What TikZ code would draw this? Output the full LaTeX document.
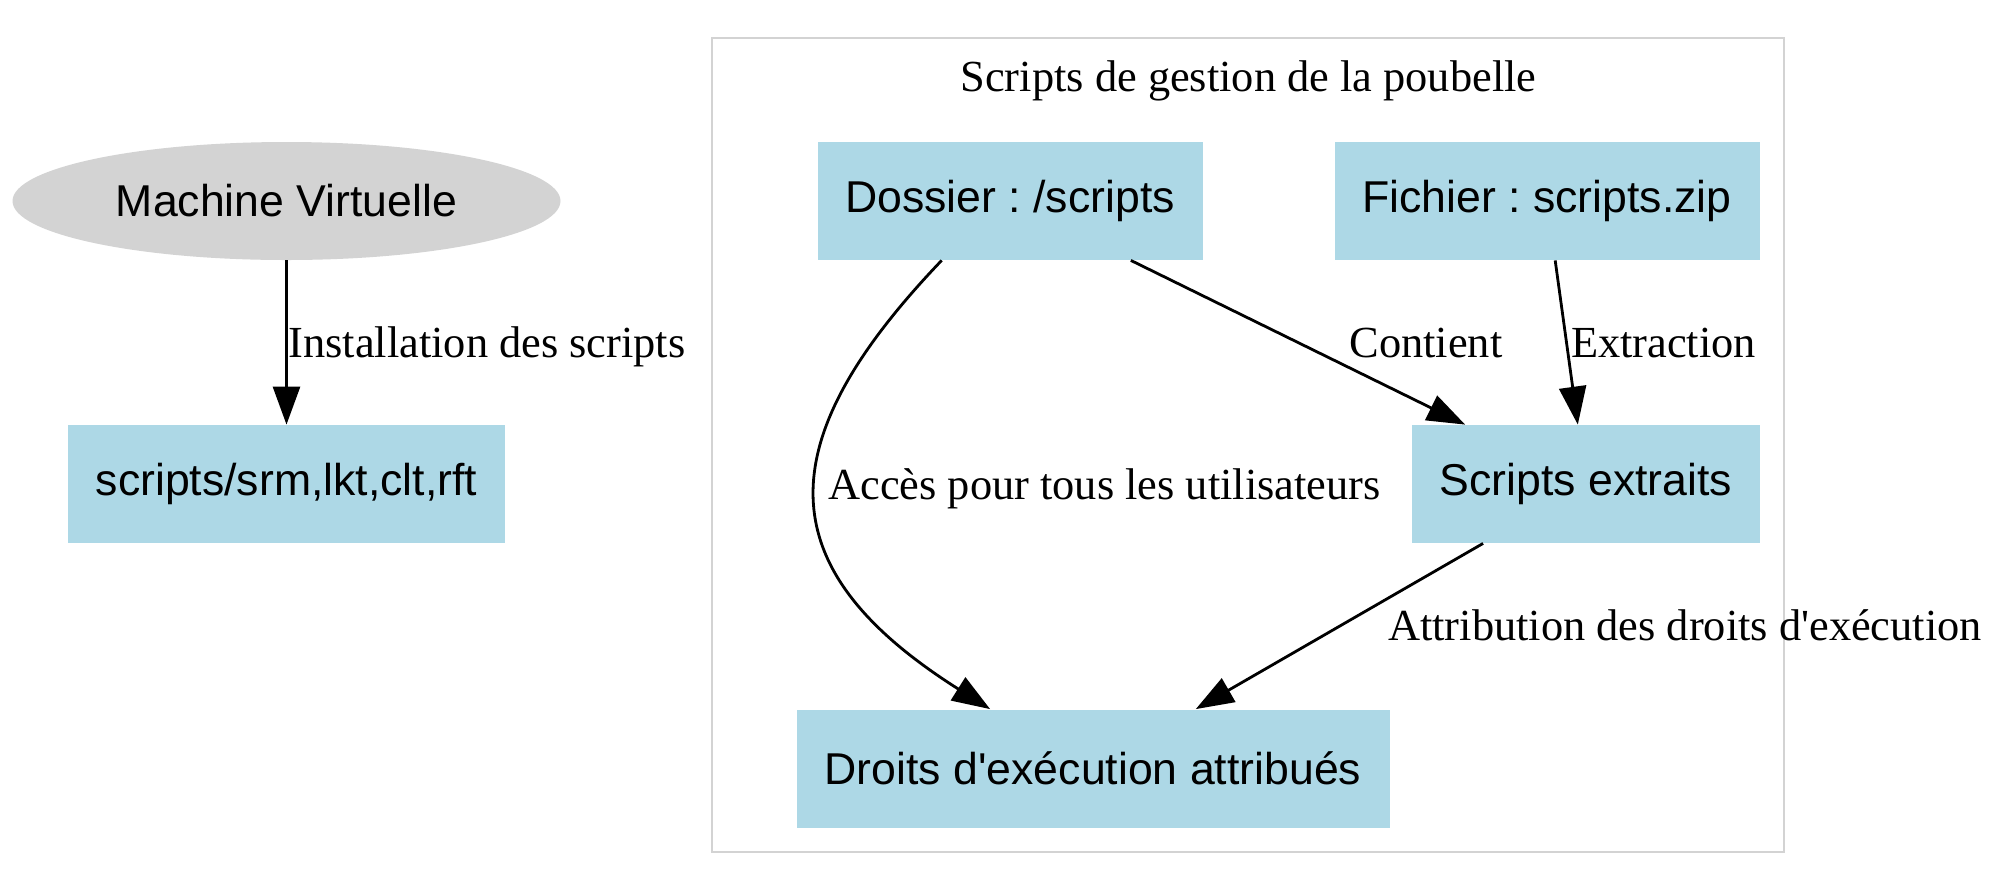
\documentclass[tikz,border=0pt]{standalone}
\usepackage{fontspec}
\setmainfont{Liberation Serif}
\newfontfamily\labelfont{Liberation Serif}
\newfontfamily\nodefont{Liberation Sans}
\usetikzlibrary{arrows.meta,shapes.geometric}
\definecolor{lblue}{RGB}{173,216,230}
\definecolor{lgray}{RGB}{211,211,211}
\frenchspacing
\tikzset{
  boxnode/.style={rectangle,fill=lblue,draw=none,inner sep=0pt,minimum height=59pt,font=\nodefont\fontsize{22.3}{26}\selectfont},
  edgelabel/.style={inner sep=0pt,font=\labelfont\fontsize{22.2}{26}\selectfont},
  conn/.style={line width=1.4pt,-{Triangle[length=19pt,width=13.5pt]}},
}
\begin{document}
\begin{tikzpicture}[x=0.5pt,y=-0.5pt]
\useasboundingbox (0,0) rectangle (1999,891);
% cluster
\draw[lgray,line width=1.2pt] (712,38) rectangle (1784,852);
\node[edgelabel,anchor=base] (title) at (1248.5,91) {Scripts de gestion de la poubelle};
% nodes
\node[ellipse,fill=lgray,draw=none,minimum width=274pt,minimum height=59pt,inner sep=0pt,font=\nodefont\fontsize{22.3}{26}\selectfont] (vm) at (286.5,201) {Machine Virtuelle};
\node[boxnode,minimum width=218.5pt] (inst) at (286.5,484) {scripts/srm,lkt,clt,rft};
\node[boxnode,minimum width=192.5pt] (dossier) at (1010,201) {Dossier : /scripts};
\node[boxnode,minimum width=212.5pt] (fichier) at (1547,201) {Fichier : scripts.zip};
\node[boxnode,minimum width=174pt] (extraits) at (1586,484) {Scripts extraits};
\node[boxnode,minimum width=296.5pt] (droits) at (1093,768.5) {Droits d'exécution attribués};
% edges
\draw[conn] (vm) -- (inst);
\draw[conn] (dossier) -- (extraits);
\draw[conn] (fichier) -- (extraits);
\draw[conn] (extraits) -- (droits);
\coordinate (c1) at (765,445);
\coordinate (c2) at (770,570);
\draw[conn] (dossier.221.4) .. controls (c1) and (c2) .. (droits.150.7);
% labels
\node[edgelabel,anchor=base west] (l1) at (288,357) {Installation des scripts};
\node[edgelabel,anchor=base] (l2) at (1426,357) {Contient};
\node[edgelabel,anchor=base] (l3) at (1663.5,357) {Extraction};
\node[edgelabel,anchor=base] (l4) at (1104.5,499) {Accès pour tous les utilisateurs};
\node[edgelabel,anchor=base] (l5) at (1685,640) {Attribution des droits d'exécution};
\end{tikzpicture}
\end{document}
